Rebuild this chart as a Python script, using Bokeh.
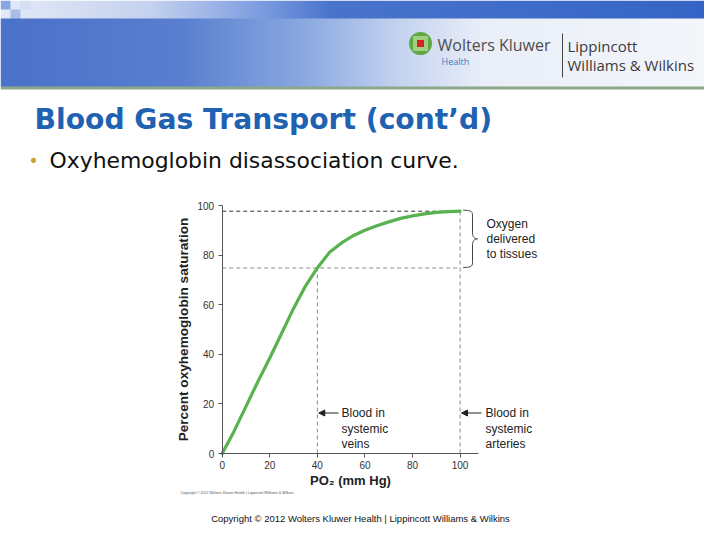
import numpy as np
from bokeh.plotting import figure
from bokeh.models import Range1d, LinearAxis, FixedTicker, Arrow, NormalHead
from bokeh.core.properties import value
from bokeh.embed import file_html
from bokeh.resources import INLINE

# ---------------- data ----------------
po2 = [0, 5, 10, 15, 20, 25, 30, 35, 40, 45, 50, 55, 60, 65, 70, 75, 80, 85, 90, 95, 100]
saturation = [0, 9, 19, 29, 38.5, 48.5, 58.5, 67.5, 74.8, 81, 84.8, 87.8, 90, 91.8, 93.4,
              94.8, 95.8, 96.6, 97.2, 97.5, 97.7]
x_ticks = [0, 20, 40, 60, 80, 100]
y_ticks = [0, 20, 40, 60, 80, 100]
veins_po2, veins_sat = 40, 74.8
arteries_po2, arteries_sat = 100, 97.7

title_text = "Blood Gas Transport (cont\u2019d)"
bullet_text = "Oxyhemoglobin disassociation curve."
x_label = "PO\u2082 (mm Hg)"
y_label = "Percent oxyhemoglobin saturation"
brace_lines = ["Oxygen", "delivered", "to tissues"]
veins_lines = ["Blood in", "systemic", "veins"]
arteries_lines = ["Blood in", "systemic", "arteries"]
copyright_text = "Copyright \u00a9 2012 Wolters Kluwer Health | Lippincott Williams & Wilkins"

# ---------------- geometry (reference pixel -> data) ----------------
W, H = 704, 524
OFF = 0
X0_PX, X100_PX = 221.7, 459.6
Y0_PX, Y100_PX = 453.0, 205.0
SX = (X100_PX - X0_PX) / 100.0
SY = (Y0_PX - Y100_PX) / 100.0


def dx(px):
    return (px - X0_PX) / SX


def dy(py):
    return (Y0_PX - py) / SY


p = figure(width=W, height=H, output_backend="svg", toolbar_location=None,
           x_range=Range1d(dx(OFF), dx(OFF + W)), y_range=Range1d(dy(OFF + H), dy(OFF)),
           x_axis_location=None, y_axis_location=None, min_border=0,
           outline_line_color=None, background_fill_color="white",
           border_fill_color="white")
p.grid.visible = False

# ---------------- header gradient ----------------
IW, IH = 720, 90
img = np.zeros((IH, IW, 4), dtype=np.uint8)
xs = np.arange(IW)


def hexrgb(h):
    return [int(h[i:i + 2], 16) for i in (1, 3, 5)]


def grad(stops):
    pos = [s[0] for s in stops]
    cols = np.array([hexrgb(s[1]) for s in stops], dtype=float)
    return np.stack([np.interp(xs, pos, cols[:, k]) for k in range(3)], axis=1)


top = grad([(0, "#e4eaf7"), (150, "#c5d2ef"), (260, "#7d9de0"), (330, "#4a74cc"), (720, "#3464c6")])
main = grad([(0, "#4a72c9"), (180, "#5a7fd0"), (300, "#89a7e0"), (400, "#c6d4f0"),
             (480, "#e9eef8"), (720, "#f5f7fb")])
for r in range(IH):
    if r < 18:
        row = top
    elif r < 86:
        row = main
    elif r < 89:
        row = np.tile(np.array(hexrgb("#8ba98a"), dtype=float), (IW, 1))
    else:
        row = np.tile(np.array([255, 255, 255], dtype=float), (IW, 1))
    img[r, :, :3] = row.astype(np.uint8)
    img[r, :, 3] = 255
# pixel squares at top-left
img[0:9, 0:10, :3] = hexrgb("#8aa6e2")
img[9:18, 10:20, :3] = hexrgb("#a9bde9")
img[0:9, 20:30, :3] = hexrgb("#d3ddf3")
rgba = img[::-1].copy().view(dtype=np.uint32).reshape((IH, IW))
p.image_rgba(image=[rgba], x=dx(0), y=dy(IH), dw=IW / SX, dh=IH / SY)

# logo
p.scatter([dx(420)], [dy(43)], size=23, marker="circle", fill_color="#5ea845", line_color=None)
p.scatter([dx(420)], [dy(43)], size=15, marker="square", fill_color="#9fcf7f", line_color=None)
p.scatter([dx(420)], [dy(43)], size=7, marker="square", fill_color="#d8202b", line_color=None)
p.text([dx(437)], [dy(44)], text=["Wolters Kluwer"], text_font=value("Open Sans"),
       text_font_size="16px", text_color="#4d4d4d", text_baseline="middle")
p.text([dx(441)], [dy(61)], text=["Health"], text_font=value("Open Sans"),
       text_font_size="9px", text_color="#3a7cc0", text_baseline="middle")
p.segment([dx(562)], [dy(33)], [dx(562)], [dy(77)], line_color="#444444", line_width=1)
p.text([dx(567), dx(567)], [dy(45), dy(64)], text=["Lippincott", "Williams & Wilkins"],
       text_font=value("Open Sans"), text_font_size="15px", text_color="#3a3a3a",
       text_baseline="middle")

# title + bullet
p.text([dx(34)], [dy(119)], text=[title_text], text_font=value("DejaVu Sans"),
       text_font_style="bold", text_font_size="28.2px", text_color="#2062b1",
       text_baseline="middle")
p.text([dx(28)], [dy(160)], text=["\u2022"], text_font=value("DejaVu Sans"),
       text_font_size="17px", text_color="#c9a227", text_baseline="middle")
p.text([dx(49)], [dy(160)], text=[bullet_text], text_font=value("DejaVu Sans"),
       text_font_size="21.9px", text_color="#111111", text_baseline="middle")

# ---------------- chart ----------------
xaxis = LinearAxis(fixed_location=0, bounds=(0, 107.6), ticker=FixedTicker(ticks=x_ticks),
                   axis_label=x_label)
yaxis = LinearAxis(fixed_location=0, bounds=(0, 100), ticker=FixedTicker(ticks=y_ticks),
                   axis_label=y_label)
for ax in (xaxis, yaxis):
    ax.axis_line_color = "#555555"
    ax.major_tick_line_color = "#555555"
    ax.major_tick_out = 4
    ax.major_tick_in = 0
    ax.minor_tick_line_color = None
    ax.major_label_text_font = "Liberation Sans"
    ax.major_label_text_font_size = "10px"
    ax.major_label_text_color = "#333333"
    ax.axis_label_text_font = "Liberation Sans"
    ax.axis_label_text_font_style = "bold"
    ax.axis_label_text_color = "#222222"
xaxis.major_label_standoff = 3
xaxis.axis_label_standoff = 1
xaxis.axis_label_text_font_size = "13px"
yaxis.major_label_standoff = 4
yaxis.axis_label_standoff = 4
yaxis.axis_label_text_font_size = "13.6px"
p.add_layout(xaxis, "below")
p.add_layout(yaxis, "left")

# reference dashed lines
p.segment([0], [arteries_sat], [arteries_po2], [arteries_sat], line_color="#333333",
          line_dash="4 3", line_width=1)
p.segment([0], [veins_sat], [arteries_po2], [veins_sat], line_color="#8a8a8a",
          line_dash="4 3", line_width=1)
p.segment([veins_po2], [0], [veins_po2], [veins_sat], line_color="#8a8a8a",
          line_dash="4 3", line_width=1)
p.segment([arteries_po2], [0], [arteries_po2], [arteries_sat], line_color="#8a8a8a",
          line_dash="4 3", line_width=1)

# curve
p.line(po2, saturation, line_color="#58b24f", line_width=3.2, line_join="round", line_cap="round")

# brace
bx0, bx1, bx2 = dx(462.7), dx(472.0), dx(477.0)
by_top, by_bot = dy(209.7), dy(267.0)
by_mid = (by_top + by_bot) / 2
k = 6 / SY
p.bezier(x0=[bx0, bx1, bx2, bx1], y0=[by_top, by_mid + k, by_mid, by_bot + k],
         x1=[bx1, bx2, bx1, bx0], y1=[by_top - k, by_mid, by_mid - k, by_bot],
         cx0=[bx1, bx1, dx(474), bx1], cy0=[by_top, by_mid + 2 / SY, by_mid, by_bot + 2 / SY],
         cx1=[bx1, dx(474), bx1, bx1], cy1=[by_top - 2 / SY, by_mid, by_mid - 2 / SY, by_bot],
         line_color="#444444", line_width=1)
p.segment([bx1, bx1], [by_top - k, by_mid - k], [bx1, bx1], [by_mid + k, by_bot + k],
          line_color="#444444", line_width=1)

p.text([dx(486)] * 3, [dy(223.5), dy(238.5), dy(253.5)], text=brace_lines,
       text_font=value("Liberation Sans"), text_font_size="12px", text_color="#222222",
       text_baseline="middle")

# arrows and labels
arrow_y = dy(412.5)
p.add_layout(Arrow(x_start=dx(338), y_start=arrow_y, x_end=veins_po2 + 0.6, y_end=arrow_y,
                   line_color="#222222", line_width=1,
                   end=NormalHead(size=6, fill_color="#222222", line_color="#222222")))
p.add_layout(Arrow(x_start=dx(481), y_start=arrow_y, x_end=arteries_po2 + 0.6, y_end=arrow_y,
                   line_color="#222222", line_width=1,
                   end=NormalHead(size=6, fill_color="#222222", line_color="#222222")))
line_ys = [dy(412.5), dy(428.5), dy(443.5)]
p.text([dx(341)] * 3, line_ys, text=veins_lines, text_font=value("Liberation Sans"),
       text_font_size="12px", text_color="#222222", text_baseline="middle")
p.text([dx(485)] * 3, line_ys, text=arteries_lines, text_font=value("Liberation Sans"),
       text_font_size="12px", text_color="#222222", text_baseline="middle")

# copyrights
p.text([dx(180)], [dy(492)], text=[copyright_text], text_font=value("Liberation Sans"),
       text_font_size="3.6px", text_color="#555555", text_baseline="middle")
p.text([dx(360)], [dy(518)], text=[copyright_text], text_font=value("Liberation Sans"),
       text_font_size="9.5px", text_color="#111111", text_baseline="middle",
       text_align="center")

open("out.html", "w").write(file_html(p, INLINE))
